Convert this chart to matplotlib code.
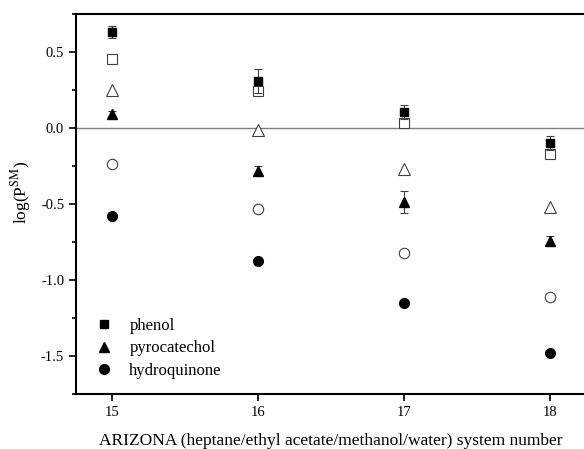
import matplotlib
matplotlib.use("Agg")
import matplotlib.pyplot as plt
from matplotlib.ticker import MultipleLocator
from matplotlib.lines import Line2D

plt.rcParams['font.family'] = ['Liberation Serif', 'DejaVu Serif']
plt.rcParams['mathtext.fontset'] = 'stix'

systems = [15, 16, 17, 18]

# filled symbols (with error bars) and open symbols per compound
phenol_filled = [0.63, 0.31, 0.105, -0.098]
phenol_err = [0.04, 0.08, 0.045, 0.045]
phenol_open = [0.456, 0.243, 0.035, -0.168]

pyro_filled = [0.095, -0.28, -0.486, -0.742]
pyro_err = [0.02, 0.03, 0.07, 0.03]
pyro_open = [0.248, -0.015, -0.267, -0.523]

hydro_filled = [-0.58, -0.875, -1.15, -1.477]
hydro_open = [-0.234, -0.53, -0.82, -1.113]

labels = ['phenol', 'pyrocatechol', 'hydroquinone']

fig = plt.figure(figsize=(5.84, 4.49), dpi=100)
ax = fig.add_axes([76 / 584, 1 - 394 / 449, 510 / 584, 380 / 449])

ax.axhline(0.0, color='#808080', lw=1.0, zorder=1)

ekw = dict(ecolor='#404040', elinewidth=0.8, capsize=3, capthick=0.8, ls='none', zorder=3)
ax.errorbar(systems, phenol_filled, yerr=phenol_err, fmt='s', color='black', ms=6, **ekw)
ax.plot(systems, phenol_open, 's', mfc='white', mec='#404040', mew=0.8, ms=6.5, ls='none', zorder=2)

ax.errorbar(systems, pyro_filled, yerr=pyro_err, fmt='^', color='black', ms=7, **ekw)
ax.plot(systems, pyro_open, '^', mfc='white', mec='#404040', mew=0.8, ms=8, ls='none', zorder=2)

ax.plot(systems, hydro_filled, 'o', color='black', ms=7, ls='none', zorder=3)
ax.plot(systems, hydro_open, 'o', mfc='white', mec='#404040', mew=0.8, ms=7.5, ls='none', zorder=2)

ax.set_xlim(14.75, 18.25)
ax.set_ylim(-1.75, 0.75)
ax.set_xticks(systems)
ax.yaxis.set_major_locator(MultipleLocator(0.5))
ax.yaxis.set_minor_locator(MultipleLocator(0.25))
ax.yaxis.set_major_formatter(plt.FuncFormatter(lambda v, p: f"{v:.1f}"))

ax.tick_params(axis='both', which='major', direction='out', length=5, width=1.2, labelsize=10.5)
ax.tick_params(axis='y', which='minor', direction='out', length=3, width=1.2)
for s in ['left', 'bottom', 'top']:
    ax.spines[s].set_linewidth(1.5)
ax.spines['right'].set_visible(False)

ax.set_xlabel('ARIZONA (heptane/ethyl acetate/methanol/water) system number', fontsize=12.5, labelpad=10)
ax.set_ylabel(r'log(P$^{\mathrm{SM}}$)', fontsize=12.5)
ax.yaxis.set_label_coords(-0.084, 0.53)

handles = [
    Line2D([], [], marker='s', color='black', ls='none', ms=6),
    Line2D([], [], marker='^', color='black', ls='none', ms=7),
    Line2D([], [], marker='o', color='black', ls='none', ms=7),
]
ax.legend(handles, labels, loc='lower left', bbox_to_anchor=(0.0, 0.0), frameon=False,
          fontsize=12, handletextpad=0.8, labelspacing=0.4, handlelength=1.5)

fig.savefig('out.png', dpi=100)
